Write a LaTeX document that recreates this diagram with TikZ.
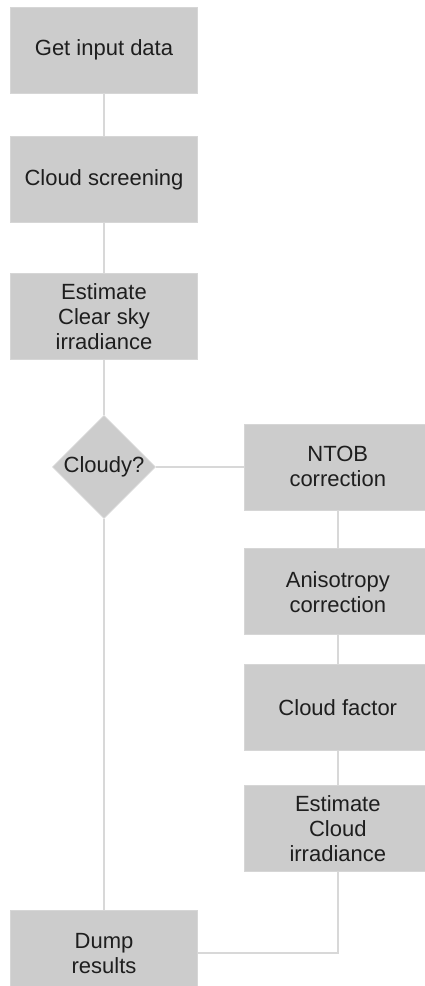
\documentclass[tikz,border=0pt]{standalone}
\usepackage{fontspec}
\setmainfont{Liberation Sans}
\usetikzlibrary{positioning,shapes.geometric}
\definecolor{boxfill}{HTML}{CCCCCC}
\definecolor{boxedge}{HTML}{D6D6D6}
\definecolor{wire}{HTML}{D8D8D8}
\definecolor{ink}{HTML}{1E1E1E}

\begin{document}
\begin{tikzpicture}[x=1pt, y=1pt, font=\fontsize{22}{25}\selectfont, text=ink,
  stepbox/.style={draw=boxedge, line width=0.8pt, fill=boxfill, minimum width=187pt, minimum height=86pt, inner sep=0pt, align=center},
  decision/.style={diamond, draw=boxedge, line width=0.8pt, fill=boxfill, minimum width=103pt, minimum height=103pt, inner sep=0pt, aspect=1},
  wire/.style={draw=wire, line width=1.6pt}]
  \useasboundingbox (0,0) rectangle (424,-986);
  % main column
  \node[stepbox] (input) at (104,-50) {Get input data};
  \node[stepbox, below=43pt of input] (screen) {Cloud screening};
  \node[stepbox, below=50pt of screen] (clear) {Estimate\\Clear sky\\irradiance};
  \node[decision, below=55pt of clear] (cloudy) {Cloudy?};
  \node[stepbox, below=391pt of cloudy] (dump) {Dump\\results};
  % cloudy branch
  \node[stepbox, right=88pt of cloudy] (ntob) {NTOB\\correction};
  \node[stepbox, below=38pt of ntob] (aniso) {Anisotropy\\correction};
  \node[stepbox, below=29pt of aniso] (factor) {Cloud factor};
  \node[stepbox, below=34pt of factor] (cloudirr) {Estimate\\Cloud\\irradiance};
  \draw[wire] (input) -- (screen);
  \draw[wire] (screen) -- (clear);
  \draw[wire] (clear) -- (cloudy);
  \draw[wire] (cloudy) -- (dump);
  \draw[wire] (cloudy) -- (ntob);
  \draw[wire] (ntob) -- (aniso);
  \draw[wire] (aniso) -- (factor);
  \draw[wire] (factor) -- (cloudirr);
  \draw[wire] (cloudirr) |- (dump);
\end{tikzpicture}
\end{document}
